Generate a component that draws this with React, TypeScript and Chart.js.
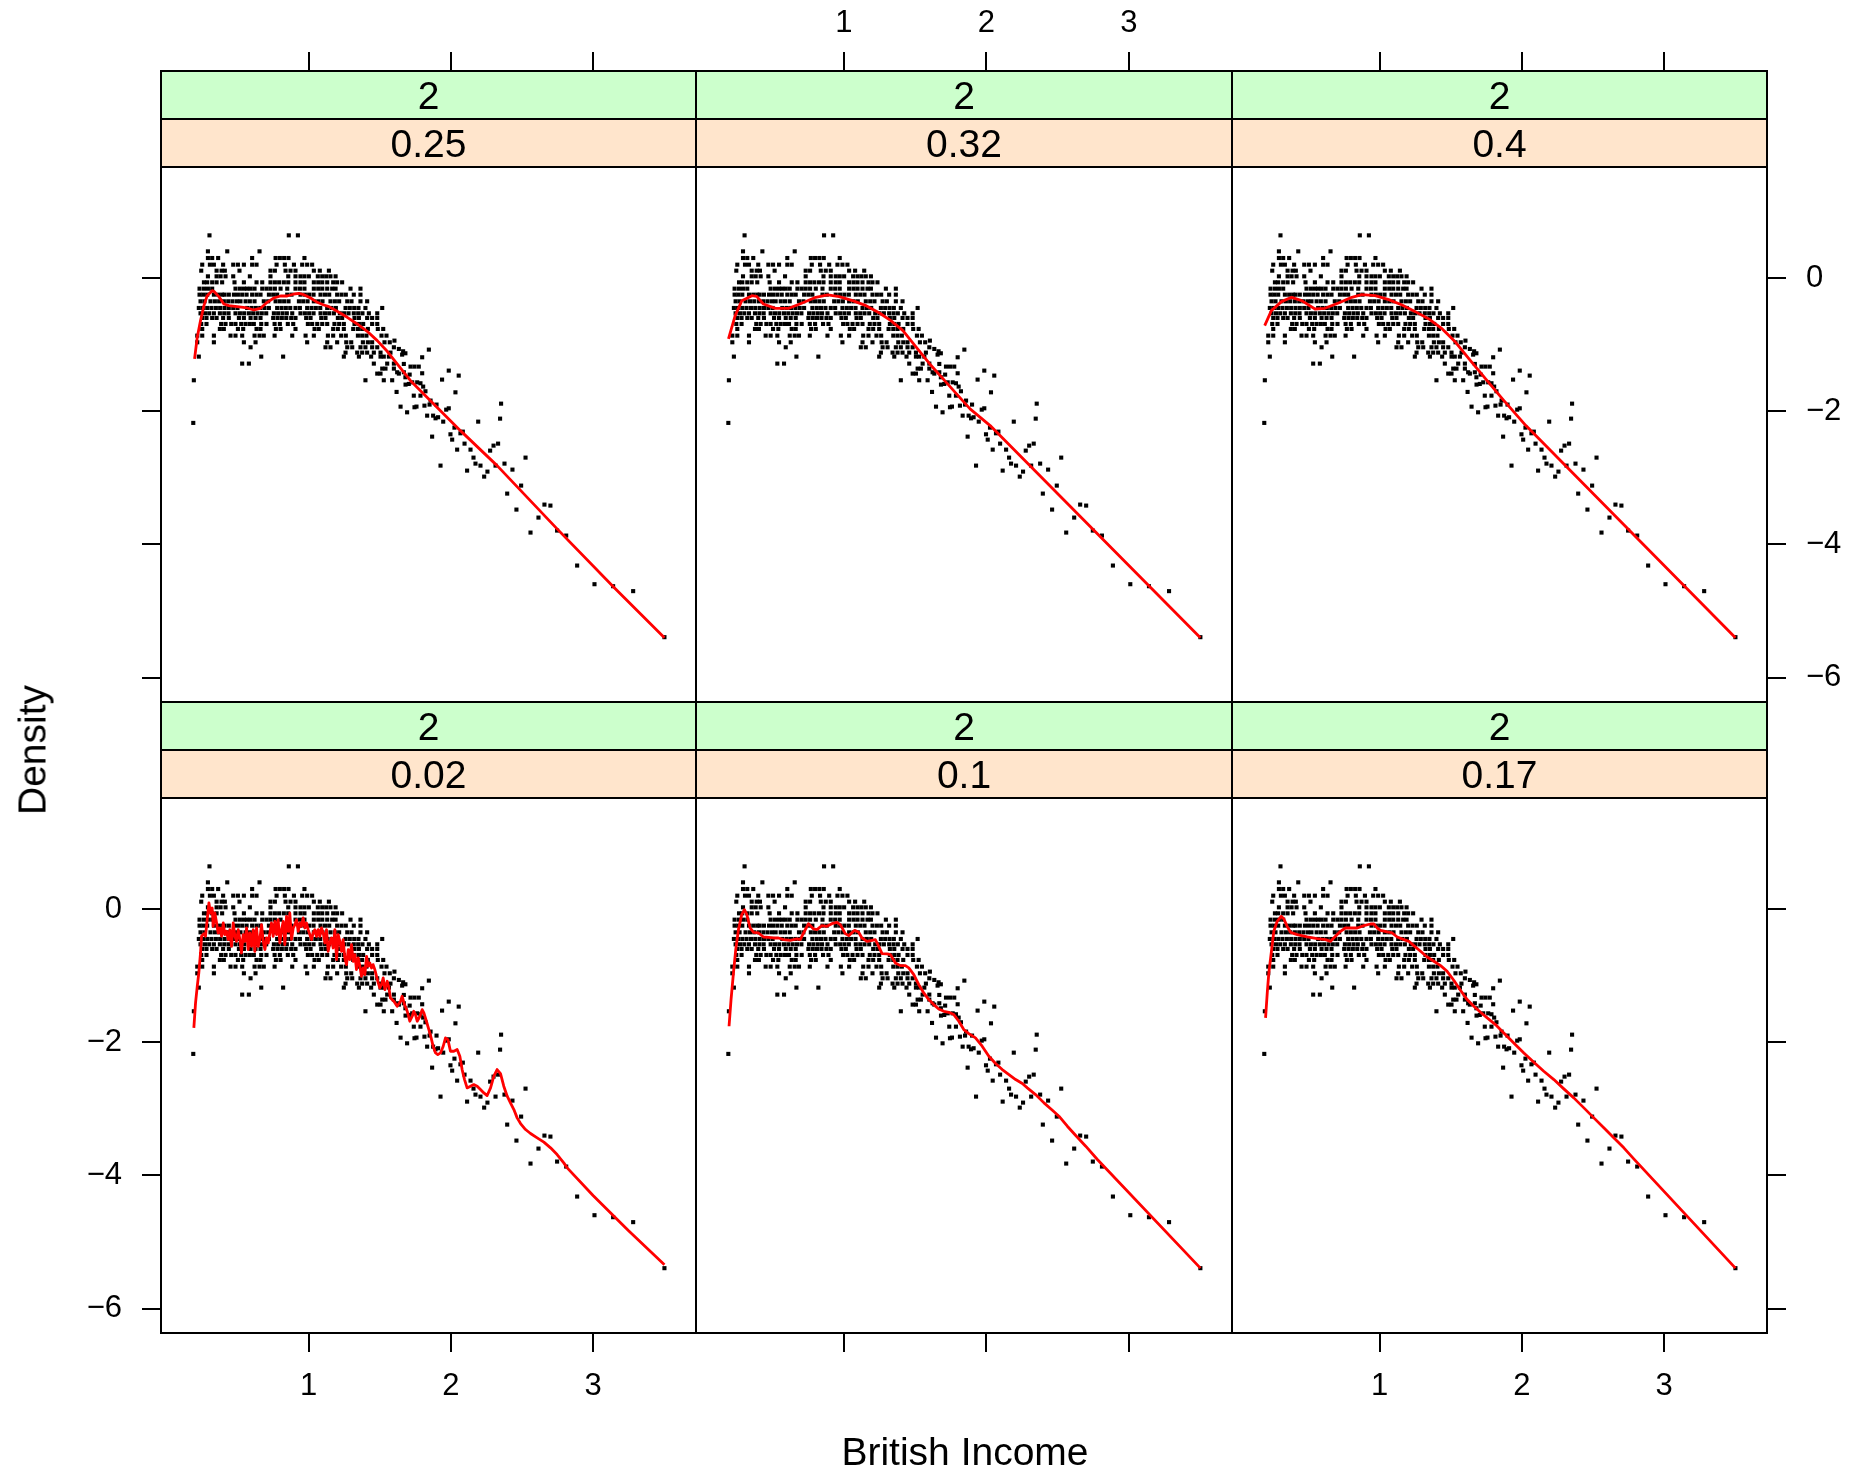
import React, { useEffect, useRef } from "react";
import { Chart, registerables } from "chart.js";

Chart.register(...registerables);

const PAGE_W = 1866;
const PAGE_H = 1471;
const FONT_FAMILY = "'Liberation Sans', Arial, Helvetica, sans-serif";

// Axis ranges and ticks shared by every panel
const X_MIN = -0.039;
const X_MAX = 3.724;
const Y_MIN = -6.364;
const Y_MAX = 1.666;
const incomeTicks = [1, 2, 3];
const densityTicks = [0, -2, -4, -6];

// Panel grid geometry (pixels)
const COL_EDGES = [161, 696, 1232, 1767];
const ROW_TOPS = [71, 702];
const STRIP_H = 48;
const PANEL_H = 535;
const BAND_LEFT = 130;
const BAND_RIGHT = 95;
const BAND_TOP = 71;
const BAND_BOTTOM = 110;
const TICK_LEN = 19;

// Observations: log-density levels and the incomes observed at each level
const densityLevels = [0.64, 0.4, 0.3, 0.2, 0.11, 0.025, -0.065, -0.16, -0.25, -0.35, -0.45, -0.53, -0.6, -0.69, -0.765, -0.865, -0.965, -1.04, -1.12, -1.18, -1.285, -1.36, -1.435, -1.535, -1.71];
const incomeAtLevel: number[][] = [
  [0.302, 0.86, 0.924],
  [0.291, 0.427, 0.654],
  [0.291, 0.321, 0.363, 0.602, 0.767, 0.797, 0.827, 0.858, 0.97],
  [0.251, 0.305, 0.333, 0.398, 0.469, 0.502, 0.544, 0.602, 0.633, 0.774, 0.832, 0.896, 0.954, 0.989, 1.024],
  [0.244, 0.352, 0.387, 0.41, 0.513, 0.731, 0.762, 0.837, 0.872, 0.907, 1.036, 1.078, 1.142],
  [0.291, 0.352, 0.38, 0.415, 0.469, 0.586, 0.731, 0.856, 0.907, 0.942, 0.97, 1.001, 1.064, 1.095, 1.123, 1.153, 1.189],
  [0.263, 0.286, 0.321, 0.352, 0.391, 0.478, 0.544, 0.633, 0.673, 0.731, 0.762, 0.792, 0.825, 0.856, 0.907, 0.942, 0.97, 1.036, 1.067, 1.095, 1.13, 1.172, 1.2, 1.235],
  [0.232, 0.263, 0.291, 0.321, 0.485, 0.516, 0.544, 0.567, 0.591, 0.619, 0.673, 0.703, 0.731, 0.762, 0.802, 0.849, 0.907, 0.938, 0.97, 1.036, 1.067, 1.095, 1.13, 1.165, 1.189, 1.294, 1.364],
  [0.232, 0.258, 0.286, 0.333, 0.363, 0.391, 0.408, 0.438, 0.474, 0.502, 0.532, 0.563, 0.602, 0.633, 0.661, 0.72, 0.75, 0.778, 0.849, 0.879, 0.942, 0.973, 1.003, 1.034, 1.083, 1.114, 1.144, 1.2, 1.231, 1.261, 1.317, 1.364],
  [0.239, 0.267, 0.309, 0.34, 0.37, 0.403, 0.434, 0.464, 0.495, 0.52, 0.556, 0.586, 0.619, 0.684, 0.715, 0.767, 0.797, 0.827, 0.858, 0.931, 0.961, 0.992, 1.036, 1.067, 1.097, 1.153, 1.184, 1.214, 1.271, 1.301, 1.364, 1.411],
  [0.227, 0.256, 0.286, 0.316, 0.347, 0.377, 0.408, 0.438, 0.469, 0.499, 0.567, 0.598, 0.628, 0.659, 0.689, 0.72, 0.778, 0.809, 0.839, 0.87, 0.907, 0.938, 0.989, 1.02, 1.05, 1.081, 1.13, 1.16, 1.191, 1.259, 1.289, 1.32, 1.35, 1.399, 1.517],
  [0.239, 0.27, 0.3, 0.333, 0.375, 0.406, 0.436, 0.485, 0.516, 0.546, 0.579, 0.609, 0.64, 0.67, 0.701, 0.755, 0.785, 0.816, 0.846, 0.884, 0.942, 0.973, 1.003, 1.034, 1.083, 1.114, 1.144, 1.177, 1.219, 1.249, 1.28, 1.317, 1.348, 1.378, 1.423, 1.482],
  [0.251, 0.281, 0.321, 0.352, 0.398, 0.438, 0.509, 0.544, 0.591, 0.626, 0.661, 0.75, 0.781, 0.811, 0.842, 0.877, 0.907, 0.982, 1.013, 1.088, 1.118, 1.205, 1.235, 1.322, 1.353, 1.411, 1.446, 1.482],
  [0.244, 0.281, 0.384, 0.415, 0.455, 0.485, 0.525, 0.556, 0.586, 0.614, 0.666, 0.703, 0.76, 0.797, 0.853, 0.891, 0.994, 1.024, 1.06, 1.095, 1.13, 1.181, 1.214, 1.247, 1.322, 1.353, 1.383, 1.446, 1.482],
  [0.251, 0.375, 0.403, 0.502, 0.539, 0.633, 0.661, 0.769, 0.802, 0.907, 1.041, 1.071, 1.172, 1.205, 1.247, 1.313, 1.346, 1.376, 1.416, 1.486, 1.524],
  [0.216, 0.251, 0.333, 0.45, 0.485, 0.532, 0.619, 0.654, 0.684, 0.76, 0.884, 0.978, 1.036, 1.135, 1.172, 1.228, 1.261, 1.346, 1.376, 1.406, 1.512, 1.547],
  [0.216, 0.333, 0.544, 0.626, 0.989, 1.13, 1.2, 1.264, 1.299, 1.381, 1.416, 1.446, 1.533, 1.57],
  [0.591, 1.118, 1.153, 1.271, 1.306, 1.364, 1.399, 1.446, 1.482, 1.599],
  [1.259, 1.341, 1.376, 1.411, 1.458, 1.505, 1.575],
  [0.227, 0.666, 0.82, 1.247, 1.353, 1.439, 1.505, 1.528, 1.564],
  [0.532, 0.579, 1.458, 1.552, 1.599],
  [1.517, 1.54, 1.599],
  [1.482, 1.505, 1.634],
  [0.192, 1.399, 1.528, 1.587],
  [1.618],
];

// Remaining observations in the sparse upper tail
const tailIncome = [
  0.188, 1.603, 1.634, 1.664, 1.68, 1.657, 1.845, 1.798, 1.669, 1.716, 1.744, 1.774, 1.622, 1.669, 1.798, 1.985, 2.055, 1.938, 1.68, 1.71,
  1.646, 1.692, 1.681, 1.704, 1.728, 1.763, 1.786, 1.805, 1.739, 1.786, 1.821, 1.857, 1.85, 1.814, 1.744, 1.758, 1.833, 1.875, 1.892, 1.91,
  1.899, 1.946, 1.967, 1.985, 2.032, 2.025, 1.997, 2.009, 2.067, 2.084, 2.096, 2.044, 2.138, 2.192, 2.353, 2.346, 1.868, 1.927, 2.159, 2.173,
  2.208, 2.114, 2.257, 2.234, 2.276, 2.3, 2.332, 2.314, 2.377, 2.433, 2.525, 2.494, 2.396, 2.461, 2.616, 2.658, 2.7, 2.56, 2.747, 2.811,
  2.888, 3.01, 3.141, 3.282, 3.502,
];
const tailDensity = [
  -2.175, -0.94, -1.065, -1.1, -1.13, -1.15, -1.075, -1.19, -1.29, -1.33, -1.33, -1.33, -1.415, -1.415, -1.43, -1.39, -1.465, -1.525, -1.49, -1.45,
  -1.931, -2.016, -1.6, -1.59, -1.566, -1.566, -1.58, -1.63, -1.766, -1.766, -1.7, -1.84, -1.9, -1.916, -1.94, -1.93, -2.066, -2.066, -2.106, -2.09,
  -1.9, -2.156, -1.976, -1.956, -1.716, -2.246, -2.346, -2.426, -2.331, -2.306, -2.486, -2.576, -2.576, -2.156, -1.886, -2.111, -2.381, -2.816, -2.696, -2.786,
  -2.816, -2.891, -2.906, -2.981, -2.591, -2.516, -2.486, -2.816, -2.786, -2.876, -2.696, -3.116, -3.236, -3.476, -3.596, -3.401, -3.416, -3.821, -3.791, -3.866,
  -4.316, -4.596, -4.626, -4.7, -5.391,
];

// Local quadratic fits, one per span
const fitSpan025: [number, number][] = [
  [0.197, -1.215], [0.216, -0.89], [0.239, -0.64], [0.263, -0.415], [0.286, -0.265], [0.321, -0.19], [0.333, -0.2],
  [0.368, -0.28], [0.403, -0.39], [0.438, -0.415], [0.497, -0.43], [0.567, -0.45], [0.614, -0.48], [0.661, -0.455],
  [0.708, -0.365], [0.755, -0.3], [0.802, -0.27], [0.849, -0.27], [0.896, -0.24], [0.931, -0.23], [0.966, -0.25],
  [1.013, -0.3], [1.06, -0.365], [1.106, -0.405], [1.142, -0.43], [1.2, -0.5], [1.271, -0.59], [1.341, -0.69],
  [1.411, -0.8], [1.482, -0.94], [1.552, -1.1], [1.622, -1.29], [1.716, -1.541], [2.067, -2.291], [2.325, -2.816],
  [2.747, -3.766], [3.146, -4.641], [3.502, -5.4],
];
const fitSpan032: [number, number][] = [
  [0.189, -0.915], [0.236, -0.565], [0.283, -0.34], [0.354, -0.265], [0.387, -0.275], [0.434, -0.39], [0.519, -0.455],
  [0.613, -0.455], [0.707, -0.375], [0.802, -0.29], [0.886, -0.255], [0.966, -0.28], [1.06, -0.34], [1.155, -0.415],
  [1.249, -0.525], [1.329, -0.64], [1.414, -0.79], [1.508, -1.04], [1.602, -1.29], [1.696, -1.515], [1.79, -1.74],
  [1.885, -1.965], [2.026, -2.215], [3.502, -5.4],
];
const fitSpan040: [number, number][] = [
  [0.191, -0.715], [0.238, -0.49], [0.309, -0.355], [0.38, -0.29], [0.451, -0.34], [0.545, -0.465], [0.615, -0.455],
  [0.71, -0.375], [0.804, -0.29], [0.874, -0.25], [0.968, -0.265], [1.063, -0.325], [1.157, -0.405], [1.251, -0.505],
  [1.345, -0.615], [1.44, -0.765], [1.534, -0.965], [1.628, -1.215], [1.745, -1.515], [1.863, -1.815], [2.028, -2.215],
  [3.502, -5.4],
];
const fitSpan002: [number, number][] = [
  [0.192, -1.785], [0.204, -1.41], [0.216, -1.16], [0.227, -0.96], [0.239, -0.66], [0.246, -0.41], [0.263, -0.37],
  [0.274, -0.41], [0.286, -0.16], [0.298, 0.09], [0.309, -0.06], [0.321, 0.015], [0.328, -0.26], [0.34, -0.06],
  [0.352, -0.21], [0.363, -0.36], [0.375, -0.285], [0.387, -0.41], [0.399, -0.21], [0.41, -0.385], [0.422, -0.335],
  [0.434, -0.46], [0.445, -0.31], [0.457, -0.56], [0.469, -0.21], [0.481, -0.41], [0.492, -0.485], [0.504, -0.31],
  [0.516, -0.46], [0.527, -0.66], [0.539, -0.385], [0.551, -0.485], [0.563, -0.285], [0.574, -0.61], [0.586, -0.36],
  [0.598, -0.56], [0.61, -0.31], [0.621, -0.635], [0.633, -0.285], [0.645, -0.56], [0.656, -0.46], [0.668, -0.235],
  [0.68, -0.485], [0.692, -0.61], [0.703, -0.435], [0.715, -0.51], [0.727, -0.36], [0.738, -0.21], [0.75, -0.41],
  [0.762, -0.185], [0.774, -0.385], [0.785, -0.16], [0.797, -0.51], [0.809, -0.31], [0.821, -0.185], [0.832, -0.535],
  [0.844, -0.11], [0.856, -0.335], [0.867, -0.06], [0.879, -0.46], [0.891, -0.285], [0.903, -0.235], [0.914, -0.16],
  [0.926, -0.335], [0.938, -0.21], [0.949, -0.26], [0.961, -0.135], [0.973, -0.285], [0.985, -0.21], [0.996, -0.31],
  [1.008, -0.385], [1.02, -0.46], [1.031, -0.36], [1.043, -0.31], [1.055, -0.41], [1.067, -0.31], [1.078, -0.41],
  [1.09, -0.285], [1.102, -0.36], [1.114, -0.51], [1.125, -0.31], [1.137, -0.635], [1.149, -0.51], [1.16, -0.435],
  [1.172, -0.585], [1.184, -0.31], [1.196, -0.76], [1.207, -0.385], [1.219, -0.485], [1.231, -0.635], [1.242, -0.46],
  [1.254, -0.735], [1.266, -0.835], [1.278, -0.61], [1.289, -0.76], [1.301, -0.535], [1.313, -0.785], [1.325, -0.685],
  [1.336, -0.91], [1.348, -0.735], [1.36, -0.86], [1.371, -1.01], [1.383, -0.885], [1.395, -0.985], [1.407, -0.71],
  [1.418, -0.86], [1.43, -0.81], [1.442, -0.885], [1.453, -0.835], [1.465, -0.91], [1.477, -1.01], [1.489, -1.11],
  [1.5, -1.185], [1.512, -1.135], [1.524, -1.035], [1.536, -1.21], [1.552, -1.085], [1.564, -1.185], [1.575, -1.335],
  [1.599, -1.385], [1.622, -1.46], [1.646, -1.385], [1.657, -1.31], [1.674, -1.435], [1.693, -1.535], [1.711, -1.685],
  [1.728, -1.61], [1.739, -1.535], [1.751, -1.585], [1.763, -1.685], [1.782, -1.61], [1.798, -1.51], [1.81, -1.56],
  [1.828, -1.685], [1.845, -1.81], [1.861, -1.935], [1.875, -2.06], [1.892, -2.16], [1.908, -2.185], [1.927, -2.16],
  [1.946, -2.06], [1.962, -1.935], [1.979, -1.96], [1.997, -2.135], [2.021, -2.135], [2.044, -2.11], [2.063, -2.21],
  [2.079, -2.41], [2.096, -2.56], [2.114, -2.685], [2.138, -2.66], [2.161, -2.635], [2.185, -2.66], [2.208, -2.71],
  [2.232, -2.76], [2.255, -2.8], [2.279, -2.685], [2.302, -2.51], [2.325, -2.41], [2.349, -2.47], [2.372, -2.66],
  [2.396, -2.81], [2.419, -2.91], [2.443, -3.01], [2.466, -3.135], [2.49, -3.22], [2.525, -3.31], [2.56, -3.37],
  [2.607, -3.435], [2.654, -3.5], [2.701, -3.585], [2.747, -3.685], [2.794, -3.81], [2.818, -3.885], [3.0, -4.3],
  [3.25, -4.83], [3.502, -5.34],
];
const fitSpan010: [number, number][] = [
  [0.193, -1.76], [0.207, -1.36], [0.224, -0.96], [0.24, -0.61], [0.259, -0.31], [0.282, -0.085], [0.301, -0.01],
  [0.318, -0.085], [0.341, -0.285], [0.365, -0.35], [0.4, -0.36], [0.435, -0.42], [0.47, -0.425], [0.505, -0.435],
  [0.54, -0.435], [0.575, -0.46], [0.622, -0.47], [0.669, -0.45], [0.693, -0.46], [0.716, -0.36], [0.751, -0.22],
  [0.786, -0.3], [0.81, -0.31], [0.845, -0.25], [0.88, -0.26], [0.915, -0.22], [0.951, -0.2], [0.974, -0.235],
  [1.009, -0.37], [1.033, -0.4], [1.075, -0.32], [1.103, -0.35], [1.126, -0.435], [1.162, -0.485], [1.197, -0.47],
  [1.22, -0.46], [1.244, -0.56], [1.267, -0.67], [1.302, -0.675], [1.326, -0.685], [1.361, -0.81], [1.396, -0.85],
  [1.431, -0.85], [1.455, -0.885], [1.49, -0.985], [1.525, -1.135], [1.56, -1.26], [1.595, -1.36], [1.63, -1.435],
  [1.665, -1.5], [1.701, -1.535], [1.736, -1.55], [1.771, -1.585], [1.806, -1.685], [1.841, -1.81], [1.876, -1.87],
  [1.923, -1.935], [1.97, -2.06], [2.017, -2.21], [2.064, -2.32], [2.111, -2.41], [2.158, -2.485], [2.205, -2.56],
  [2.252, -2.62], [2.287, -2.685], [2.345, -2.785], [2.404, -2.91], [2.463, -3.02], [2.509, -3.11], [2.568, -3.26],
  [2.627, -3.4], [2.697, -3.56], [2.779, -3.76], [3.502, -5.39],
];
const fitSpan017: [number, number][] = [
  [0.197, -1.635], [0.209, -1.26], [0.22, -0.96], [0.237, -0.66], [0.255, -0.335], [0.279, -0.185], [0.307, -0.11],
  [0.326, -0.15], [0.349, -0.26], [0.373, -0.35], [0.42, -0.385], [0.49, -0.42], [0.56, -0.445], [0.619, -0.46],
  [0.654, -0.485], [0.689, -0.41], [0.724, -0.335], [0.759, -0.285], [0.806, -0.285], [0.842, -0.285], [0.888, -0.25],
  [0.935, -0.225], [0.959, -0.225], [0.982, -0.285], [1.006, -0.32], [1.053, -0.345], [1.088, -0.36], [1.123, -0.42],
  [1.17, -0.46], [1.205, -0.485], [1.24, -0.55], [1.287, -0.635], [1.334, -0.72], [1.381, -0.785], [1.428, -0.85],
  [1.474, -0.935], [1.521, -1.07], [1.568, -1.22], [1.615, -1.36], [1.662, -1.46], [1.709, -1.55], [1.756, -1.635],
  [1.814, -1.735], [1.873, -1.86], [1.943, -2.01], [2.014, -2.16], [2.084, -2.3], [2.154, -2.435], [2.225, -2.56],
  [2.295, -2.7], [2.365, -2.835], [2.436, -2.985], [2.506, -3.135], [2.576, -3.285], [2.646, -3.435], [2.717, -3.585],
  [2.787, -3.75], [3.502, -5.39],
];

const degreeLabel = "2";

type PanelSpec = { row: number; col: number; span: string; fit: [number, number][] };

const panels: PanelSpec[] = [
  { row: 0, col: 0, span: "0.25", fit: fitSpan025 },
  { row: 0, col: 1, span: "0.32", fit: fitSpan032 },
  { row: 0, col: 2, span: "0.4", fit: fitSpan040 },
  { row: 1, col: 0, span: "0.02", fit: fitSpan002 },
  { row: 1, col: 1, span: "0.1", fit: fitSpan010 },
  { row: 1, col: 2, span: "0.17", fit: fitSpan017 },
];

const observations = [
  ...densityLevels.flatMap((d, i) => incomeAtLevel[i].map((x) => ({ x, y: d }))),
  ...tailIncome.map((x, i) => ({ x, y: tailDensity[i] })),
];

const formatTick = (v: number) => (v < 0 ? "\u2212" + Math.abs(v) : String(v));

// Draws the two strips above the panel and the panel frame
const stripPlugin = {
  id: "strips",
  afterDraw(chart: any, _args: any, opts: any) {
    const { ctx, chartArea } = chart;
    const { left, right, top, bottom } = chartArea;
    const w = right - left;
    ctx.save();
    ctx.fillStyle = "#CCFFCC";
    ctx.fillRect(left, top, w, STRIP_H);
    ctx.fillStyle = "#FFE5CC";
    ctx.fillRect(left, top + STRIP_H, w, STRIP_H);
    ctx.strokeStyle = "#000";
    ctx.lineWidth = 2;
    ctx.strokeRect(left, top, w, STRIP_H);
    ctx.strokeRect(left, top + STRIP_H, w, STRIP_H);
    ctx.strokeRect(left, top, w, bottom - top);
    ctx.fillStyle = "#000";
    ctx.font = `39px ${FONT_FAMILY}`;
    ctx.textAlign = "center";
    ctx.textBaseline = "middle";
    ctx.fillText(opts.upper, left + w / 2, top + STRIP_H / 2 + 3);
    ctx.fillText(opts.lower, left + w / 2, top + STRIP_H * 1.5 + 3);
    ctx.restore();
  },
};

function makeAxis(o: {
  axis: "x" | "y";
  position: string;
  shown: boolean;
  labelled: boolean;
  values: number[];
  min: number;
  max: number;
  pad: number;
  band: number;
}) {
  return {
    type: "linear",
    axis: o.axis,
    position: o.position,
    display: o.shown,
    min: o.min,
    max: o.max,
    grid: {
      display: true,
      drawOnChartArea: false,
      drawTicks: true,
      tickLength: TICK_LEN,
      color: "#000",
      tickColor: "#000",
      lineWidth: 2,
      tickWidth: 2,
    },
    border: { display: false },
    ticks: {
      display: o.labelled,
      autoSkip: false,
      maxRotation: 0,
      minRotation: 0,
      padding: o.pad,
      color: "#000",
      font: { family: FONT_FAMILY, size: 31 },
      callback: (v: any) => formatTick(Number(v)),
    },
    afterBuildTicks: (scale: any) => {
      scale.ticks = o.values.map((value) => ({ value }));
    },
    afterFit: (scale: any) => {
      if (!o.shown) return;
      if (o.axis === "x") scale.height = o.band;
      else scale.width = o.band;
    },
  };
}

function PanelChart({ panel }: { panel: PanelSpec }) {
  const ref = useRef<HTMLCanvasElement | null>(null);

  useEffect(() => {
    const canvas = ref.current;
    if (!canvas) return;
    const { row, col } = panel;
    const left = COL_EDGES[col];
    const right = COL_EDGES[col + 1];
    const top = ROW_TOPS[row];
    const bottom = top + 2 * STRIP_H + PANEL_H;
    // extend the y range upward so the strips sit inside the chart area
    const yTop = Y_MAX + (2 * STRIP_H * (Y_MAX - Y_MIN)) / PANEL_H;

    const hasLeft = col === 0;
    const hasRight = col === 2;
    const hasTop = row === 0;
    const hasBottom = row === 1;

    const chart = new Chart(canvas, {
      type: "scatter",
      data: {
        datasets: [
          {
            data: panel.fit.map(([x, y]) => ({ x, y })),
            showLine: true,
            borderColor: "#FF0000",
            borderWidth: 2.8,
            pointRadius: 0,
            pointHitRadius: 0,
            tension: 0,
            borderJoinStyle: "round",
            order: 0,
            xAxisID: "x",
            yAxisID: "y",
          },
          {
            data: observations,
            showLine: false,
            pointStyle: "rect",
            pointRadius: 2.9,
            pointBorderWidth: 0,
            pointBackgroundColor: "#000",
            backgroundColor: "#000",
            borderColor: "#000",
            order: 1,
            xAxisID: "x",
            yAxisID: "y",
          },
        ],
      } as any,
      options: {
        animation: false,
        responsive: false,
        events: [],
        layout: {
          padding: {
            left: left - (hasLeft ? BAND_LEFT : 0),
            right: PAGE_W - right - (hasRight ? BAND_RIGHT : 0),
            top: top - (hasTop ? BAND_TOP : 0),
            bottom: PAGE_H - bottom - (hasBottom ? BAND_BOTTOM : 0),
          },
        },
        plugins: {
          legend: { display: false },
          tooltip: { enabled: false },
          strips: { upper: degreeLabel, lower: panel.span },
        } as any,
        scales: {
          x: makeAxis({ axis: "x", position: "bottom", shown: hasBottom, labelled: hasBottom && col !== 1, values: incomeTicks, min: X_MIN, max: X_MAX, pad: 16, band: BAND_BOTTOM }),
          xTop: makeAxis({ axis: "x", position: "top", shown: hasTop, labelled: hasTop && col === 1, values: incomeTicks, min: X_MIN, max: X_MAX, pad: 10, band: BAND_TOP }),
          y: makeAxis({ axis: "y", position: "left", shown: hasLeft, labelled: hasLeft && row === 1, values: densityTicks, min: Y_MIN, max: yTop, pad: 20, band: BAND_LEFT }),
          yRight: makeAxis({ axis: "y", position: "right", shown: hasRight, labelled: hasRight && row === 0, values: densityTicks, min: Y_MIN, max: yTop, pad: 20, band: BAND_RIGHT }),
        } as any,
      },
      plugins: [stripPlugin as any],
    });

    return () => chart.destroy();
  }, [panel]);

  return (
    <canvas
      ref={ref}
      width={PAGE_W}
      height={PAGE_H}
      style={{ position: "absolute", left: 0, top: 0, width: PAGE_W, height: PAGE_H }}
    />
  );
}

export default function App() {
  return (
    <div
      style={{
        position: "absolute",
        left: 0,
        top: 0,
        width: PAGE_W,
        height: PAGE_H,
        background: "#fff",
        overflow: "hidden",
        fontFamily: FONT_FAMILY,
      }}
    >
      {panels.map((p) => (
        <PanelChart key={`${p.row}-${p.col}`} panel={p} />
      ))}
      <div
        style={{
          position: "absolute",
          left: 32,
          top: 750,
          transform: "translate(-50%, -50%) rotate(-90deg)",
          fontSize: 39,
          lineHeight: 1,
          whiteSpace: "nowrap",
          color: "#000",
        }}
      >
        Density
      </div>
      <div
        style={{
          position: "absolute",
          left: 965,
          top: 1451,
          transform: "translate(-50%, -50%)",
          fontSize: 39,
          lineHeight: 1,
          whiteSpace: "nowrap",
          color: "#000",
        }}
      >
        British Income
      </div>
    </div>
  );
}
